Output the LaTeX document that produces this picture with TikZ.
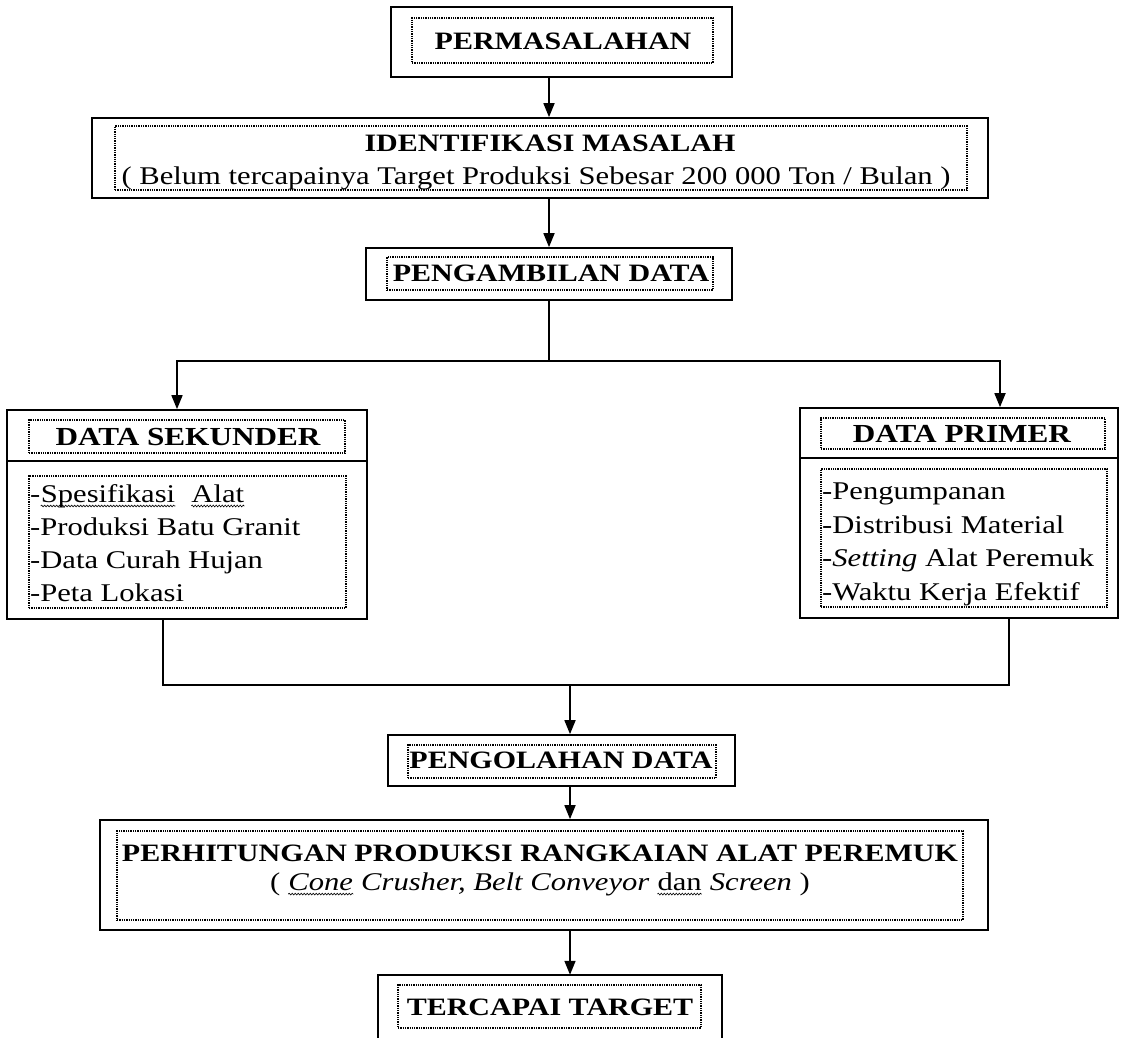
\documentclass[tikz,border=0pt]{standalone}
\usepackage{fontspec}
\setmainfont[FakeStretch=1.2]{Liberation Serif}
\usetikzlibrary{arrows.meta,decorations.pathmorphing}
\newcommand{\wv}[1]{\tikz[baseline=(w.base)]{\node[inner sep=0pt] (w) {#1};
  \draw[line width=0.6pt, decorate, decoration={snake, amplitude=0.9pt, segment length=3pt}]
  ([yshift=-4pt]w.base west) -- ([yshift=-4pt]w.base east);}}
\begin{document}
\begin{tikzpicture}[x=1pt,y=-1pt,
  outer/.style={draw, line width=1.7pt, inner sep=0pt},
  inner/.style={draw, densely dotted, line width=1.3pt, inner sep=0pt},
  txt/.style={inner sep=0pt, font=\fontsize{25.5}{30}\selectfont},
  ttl/.style={inner sep=0pt, font=\fontsize{25}{30}\selectfont\bfseries},
  hdr/.style={inner sep=0pt, font=\fontsize{26}{30}\selectfont\bfseries},
  item/.style={inner sep=0pt, anchor=base west, font=\fontsize{25.5}{30}\selectfont},
  arr/.style={line width=1.7pt, -{Triangle[length=14pt,width=11pt]}},
  conn/.style={line width=1.7pt}]
\useasboundingbox (0,0) rectangle (1121,1038);
\fill[white] (0,0) rectangle (1121,1038);

% PERMASALAHAN
\node[outer, minimum width=341pt, minimum height=70pt] (perm) at (561.5,42) {};
\node[inner, minimum width=301pt, minimum height=45pt] (permi) at (562.5,40.5) {};
\node[ttl] (permt) at (563,41) {PERMASALAHAN};

% IDENTIFIKASI
\node[outer, minimum width=896pt, minimum height=80pt] (iden) at (540,158) {};
\node[inner, minimum width=852pt, minimum height=64pt] (ideni) at (541,158) {};
\node[ttl] (ident) at (550,143) {IDENTIFIKASI MASALAH};
\node[txt] (idens) at (536,178) {( Belum tercapainya Target Produksi Sebesar 200 000 Ton / Bulan )};

% PENGAMBILAN
\node[outer, minimum width=366pt, minimum height=52pt] (peng) at (549,274) {};
\node[inner, minimum width=326pt, minimum height=33pt] (pengi) at (550,273.5) {};
\node[ttl] (pengt) at (551,273) {PENGAMBILAN DATA};

% DATA SEKUNDER
\node[outer, minimum width=360pt, minimum height=209pt] (sek) at (187,514.5) {};
\coordinate (sekdiv) at (0,461);
\draw[conn] (sek.west |- sekdiv) -- (sek.east |- sekdiv);
\node[inner, minimum width=316pt, minimum height=33pt] (sekh) at (187,436.5) {};
\node[hdr] (sekt) at (188,437) {DATA SEKUNDER};
\node[inner, minimum width=317pt, minimum height=132pt] (seki) at (187.5,542) {};
\node[item] (s1) at (30,502) {-\wv{Spesifikasi}\ \ \wv{Alat}};
\node[item] (s2) at (30,535) {-Produksi Batu Granit};
\node[item] (s3) at (30,568) {-Data Curah Hujan};
\node[item] (s4) at (30,601) {-Peta Lokasi};

% DATA PRIMER
\node[outer, minimum width=318pt, minimum height=210pt] (pri) at (959,513) {};
\coordinate (pridiv) at (0,458);
\draw[conn] (pri.west |- pridiv) -- (pri.east |- pridiv);
\node[inner, minimum width=284pt, minimum height=31pt] (prih) at (963,433.5) {};
\node[hdr] (prit) at (962,434) {DATA PRIMER};
\node[inner, minimum width=286pt, minimum height=138pt] (prii) at (964,538) {};
\node[item] (p1) at (822,499) {-Pengumpanan};
\node[item] (p2) at (822,533) {-Distribusi Material};
\node[item] (p3) at (822,566) {-\textit{Setting} Alat Peremuk};
\node[item] (p4) at (822,600) {-Waktu Kerja Efektif};

% PENGOLAHAN
\node[outer, minimum width=347pt, minimum height=51pt] (olah) at (561.5,760.5) {};
\node[inner, minimum width=308pt, minimum height=33pt] (olahi) at (562,761.5) {};
\node[ttl] (olaht) at (561,760) {PENGOLAHAN DATA};

% PERHITUNGAN
\node[outer, minimum width=888pt, minimum height=110pt] (hit) at (544,875) {};
\node[inner, minimum width=846pt, minimum height=89pt] (hiti) at (540,875.5) {};
\node[ttl] (hitt) at (540,853) {PERHITUNGAN PRODUKSI RANGKAIAN ALAT PEREMUK};
\node[txt] (hits) at (540,884) {( \textit{\wv{Cone} Crusher, Belt Conveyor} \wv{dan} \textit{Screen} )};

% TERCAPAI TARGET
\node[minimum width=344pt, minimum height=63pt, inner sep=0pt] (terc) at (550,1006.5) {};
\draw[conn] (terc.south west) -- (terc.north west) -- (terc.north east) -- (terc.south east);
\node[inner, minimum width=303pt, minimum height=43pt] (terci) at (549.5,1006.5) {};
\node[ttl] (terct) at (550,1007) {TERCAPAI TARGET};

% connectors
\coordinate (cx) at (549,0);
\draw[arr] (perm.south -| cx) -- (iden.north -| cx);
\draw[arr] (iden.south -| cx) -- (peng.north -| cx);
\coordinate (split) at (549,361);
\coordinate (sl) at (177,361);
\coordinate (sr) at (1000,361);
\draw[conn] (peng.south -| cx) -- (split);
\draw[arr] (split) -- (sl) -- (sek.north -| sl);
\draw[arr] (split) -- (sr) -- (pri.north -| sr);
\coordinate (jl) at (163,685);
\coordinate (jr) at (1009,685);
\coordinate (jm) at (570,685);
\draw[conn] (sek.south -| jl) -- (jl) -- (jr) -- (pri.south -| jr);
\draw[arr] (jm) -- (olah.north -| jm);
\draw[arr] (olah.south -| jm) -- (hit.north -| jm);
\draw[arr] (hit.south -| jm) -- (terc.north -| jm);
\end{tikzpicture}
\end{document}
